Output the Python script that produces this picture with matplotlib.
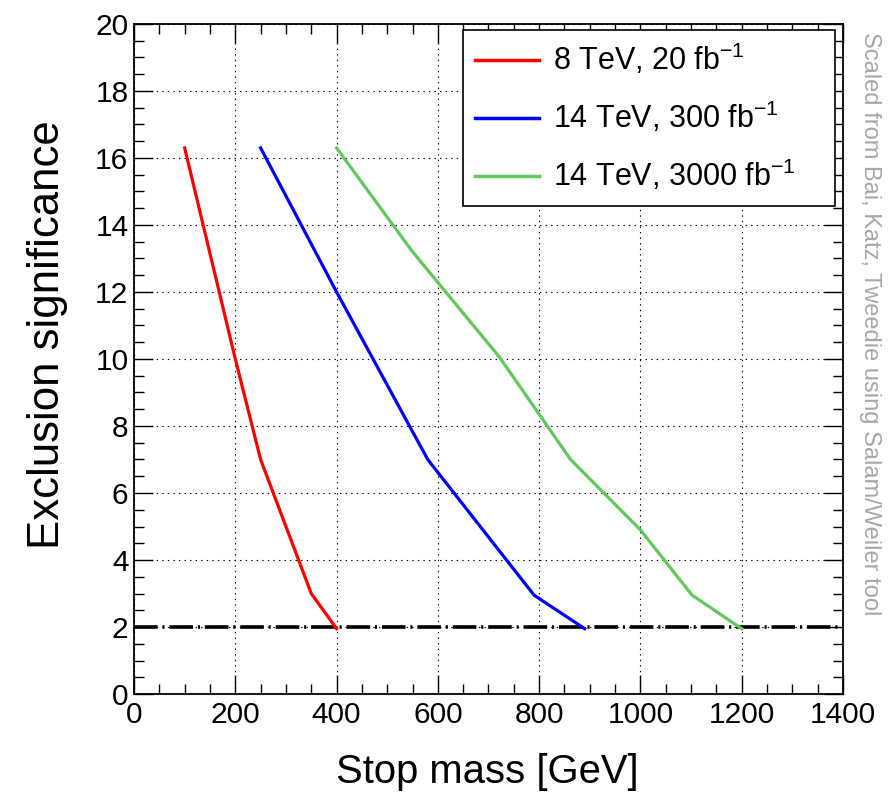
import matplotlib
matplotlib.use("Agg")
import matplotlib.pyplot as plt
from matplotlib.ticker import MultipleLocator

plt.rcParams['font.family'] = ['Liberation Sans', 'DejaVu Sans']
plt.rcParams['mathtext.fontset'] = 'custom'
plt.rcParams['mathtext.rm'] = 'Liberation Sans'
plt.rcParams['mathtext.it'] = 'Liberation Sans'
plt.rcParams['lines.scale_dashes'] = False

# stop mass [GeV] vs exclusion significance
mass_8tev = [100, 200, 250, 350, 400]
sig_8tev = [16.3, 10.0, 7.0, 3.0, 1.95]

mass_14tev_300 = [250, 400, 580, 790, 890]
sig_14tev_300 = [16.3, 12.0, 7.0, 2.95, 1.95]

mass_14tev_3000 = [400, 550, 722, 862, 1000, 1102, 1200]
sig_14tev_3000 = [16.3, 13.2, 10.05, 7.0, 4.9, 2.95, 1.95]

labels = [r'8 TeV, 20 fb$^{-1}$', r'14 TeV, 300 fb$^{-1}$', r'14 TeV, 3000 fb$^{-1}$']
colors = ['#ff0000', '#0000ff', '#62c85e']
threshold = 2

fig = plt.figure(figsize=(8.91, 7.98), dpi=100)
ax = fig.add_axes([0.1504, 0.1303, 0.7957, 0.8397])

ax.plot(mass_8tev, sig_8tev, color=colors[0], lw=2.3, label=labels[0], zorder=3)
ax.plot(mass_14tev_300, sig_14tev_300, color=colors[1], lw=2.3, label=labels[1], zorder=3)
ax.plot(mass_14tev_3000, sig_14tev_3000, color=colors[2], lw=2.3, label=labels[2], zorder=3)
ax.axhline(threshold, color='black', lw=2.6, dashes=(17, 3.5, 1.5, 3.5), zorder=2)

ax.set_xlim(0, 1400)
ax.set_ylim(0, 20)
ax.xaxis.set_major_locator(MultipleLocator(200))
ax.xaxis.set_minor_locator(MultipleLocator(50))
ax.yaxis.set_major_locator(MultipleLocator(2))
ax.yaxis.set_minor_locator(MultipleLocator(0.5))
ax.tick_params(which='both', direction='in', top=True, right=True, width=1.0)
ax.tick_params(which='major', length=14, labelsize=21.5)
ax.tick_params(which='minor', length=7)
ax.tick_params(axis='x', pad=5)
ax.tick_params(axis='y', pad=4)
for s in ax.spines.values():
    s.set_linewidth(1.3)
ax.grid(True, which='major', color='black', lw=0.8, linestyle=(0, (1, 3)))

ax.set_xlabel('Stop mass [GeV]', fontsize=28.8, va='center')
ax.xaxis.set_label_coords(0.498, -0.116)
ax.set_ylabel('Exclusion significance', fontsize=31.5, va='center')
ax.yaxis.set_label_coords(-0.122, 0.536)

leg = ax.legend(loc='upper left', bbox_to_anchor=(0.464, 0.0, 0.525, 0.991),
                mode='expand', fontsize=22, frameon=True, fancybox=False,
                handlelength=2.1, handletextpad=0.45, labelspacing=0.74,
                borderpad=0.4, borderaxespad=0)
leg.get_frame().set_edgecolor('black')
leg.get_frame().set_linewidth(1.2)
leg.get_frame().set_alpha(1)
for line in leg.get_lines():
    line.set_linewidth(2.5)

fig.text(0.9765, 0.594, 'Scaled from Bai, Katz, Tweedie using Salam/Weiler tool',
         rotation=-90, ha='center', va='center', fontsize=17, color='#a6a6a6')

fig.savefig('out.png', dpi=100)
